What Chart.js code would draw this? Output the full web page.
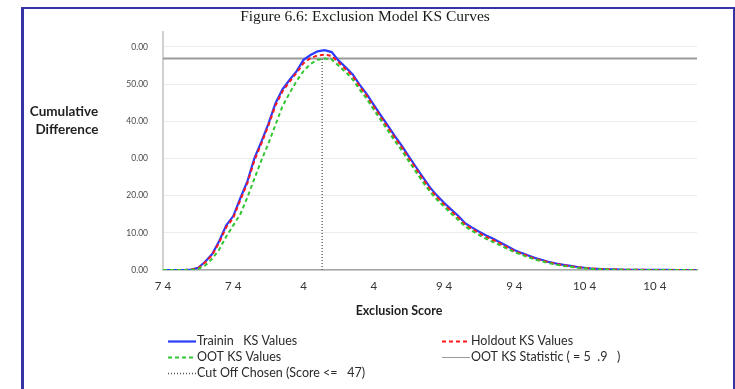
<!DOCTYPE html>
<html>
<head>
<meta charset="utf-8">
<script src="https://cdn.jsdelivr.net/npm/chart.js@4.4.0/dist/chart.umd.min.js"></script>
<style>
  html, body { margin: 0; padding: 0; background: #fff; overflow: hidden; }
  #frame { position: absolute; left: 21px; top: 7px; width: 714px; height: 400px;
           box-sizing: border-box; border: solid #3434a4; border-width: 2px 2px 0 3px; }
  #myChart { position: absolute; left: 0; top: 0; }
</style>
</head>
<body>
<div id="frame"></div>
<canvas id="myChart" width="735" height="389"></canvas>
<script>
// score positions along the x axis (index units)
var scores = [0, 2, 4, 6, 8, 10, 12, 14, 16, 18, 20, 22, 24, 26, 28, 30, 32, 34, 36, 38,
              40, 42, 44, 46, 48, 50, 52, 54, 56, 58, 60, 62, 64, 66, 68, 70, 72, 74, 76, 78,
              80, 82, 84, 86, 88, 90, 92, 94, 96, 98, 100, 102, 104, 106, 108, 110, 112, 114, 116, 118,
              120, 122, 124, 126, 128, 130, 132, 134, 136, 138, 140, 142, 144, 146, 148, 150, 152];

var trainingKS = [0, 0, 0, 0, 0.1, 0.6, 2.2, 4.3, 7.8, 12.0, 14.5, 19.3, 23.8, 30.0, 34.5, 39.3, 44.8, 48.6, 51.1, 53.4,
                  56.5, 57.8, 58.8, 59.1, 58.6, 56.3, 54.5, 52.6, 49.8, 47.3, 44.4, 41.6, 38.8, 36.0, 33.4, 30.5, 27.7, 24.9, 22.2, 20.0,
                  18.1, 16.3, 14.6, 12.6, 11.4, 10.3, 9.3, 8.4, 7.4, 6.4, 5.4, 4.6, 3.9, 3.2, 2.7, 2.1, 1.7, 1.4, 1.1, 0.8,
                  0.6, 0.4, 0.3, 0.2, 0.15, 0.1, 0.07, 0.05, 0.04, 0.03, 0.02, 0.01, 0.01, 0, 0, 0, 0];

var holdoutKS = [0, 0, 0, 0, 0.1, 0.5, 2.0, 4.0, 7.4, 11.5, 14.0, 18.8, 23.3, 29.4, 34.0, 38.8, 44.2, 48.0, 50.6, 53.0,
                 55.6, 57.0, 57.7, 57.9, 57.6, 55.8, 54.0, 52.1, 49.3, 46.8, 43.9, 41.1, 38.3, 35.5, 32.9, 30.0, 27.2, 24.4, 21.7, 19.5,
                 17.6, 15.8, 14.1, 12.2, 11.0, 9.9, 8.9, 8.0, 7.1, 6.1, 5.1, 4.4, 3.7, 3.0, 2.5, 2.0, 1.6, 1.3, 1.0, 0.75,
                 0.55, 0.38, 0.27, 0.18, 0.13, 0.09, 0.06, 0.05, 0.04, 0.03, 0.02, 0.01, 0.01, 0, 0, 0, 0];

var ootKS = [0, 0, 0, 0, 0, 0.3, 1.2, 3.0, 5.5, 9.0, 12.0, 15.0, 19.5, 24.5, 29.5, 34.0, 39.0, 44.0, 47.5, 50.8,
             53.5, 55.4, 56.5, 56.9, 56.6, 54.9, 53.2, 51.2, 48.5, 46.0, 43.1, 40.3, 37.5, 34.7, 32.1, 29.2, 26.4, 23.6, 21.0, 18.9,
             17.0, 15.2, 13.5, 11.7, 10.5, 9.4, 8.4, 7.5, 6.6, 5.7, 4.8, 4.1, 3.4, 2.8, 2.3, 1.8, 1.4, 1.1, 0.85, 0.6,
             0.45, 0.3, 0.2, 0.14, 0.1, 0.07, 0.05, 0.04, 0.03, 0.02, 0.01, 0.01, 0, 0, 0, 0, 0];

var ksStatistic = 56.9;
var cutOffScore = 45.3;

var xTickValues = [0, 20, 40, 60, 80, 100, 120, 140];
var xTickLabels = ['7 4', '7 4', '4', '4', '9 4', '9 4', '10 4', '10 4'];
var yTickValues = [0, 10, 20, 30, 40, 50, 60];
var yTickLabels = ['0.00', '10.00', '20.00', '0.00', '40.00', '50.00', '0.00'];

var titleText = 'Figure 6.6: Exclusion Model KS Curves';
var yTitle = ['Cumulative', 'Difference'];
var xTitle = 'Exclusion Score';

function toPoints(xs, ys) {
    return xs.map((x, i) => ({ x: x, y: ys[i] }));
}

// legend slots: [dataset index, column, row]
var legendSlots = [[0, 0, 0], [1, 1, 0], [2, 0, 1], [3, 1, 1], [4, 0, 2]];

const textPlugin = {
    id: 'texts',
    afterDraw(chart) {
        const ctx = chart.ctx;
        ctx.save();
        ctx.textBaseline = 'middle';

        ctx.fillStyle = '#1a1a1a';
        ctx.font = '15.5px "Liberation Serif"';
        ctx.textAlign = 'center';
        ctx.fillText(titleText, 365, 17);

        ctx.fillStyle = '#1f1f1f';
        ctx.font = 'bold 13.5px Lato';
        ctx.fillText(yTitle[0], 64, 112);
        ctx.fillText(yTitle[1], 67, 130);

        ctx.font = 'bold 12.5px Lato';
        ctx.fillText(xTitle, 399, 311);

        // legend
        const colX = [168, 442];
        const rowY = [341, 357, 373];
        ctx.textAlign = 'left';
        ctx.font = '12.5px Lato';
        legendSlots.forEach(function (slot) {
            const ds = chart.data.datasets[slot[0]];
            const x = colX[slot[1]];
            const y = rowY[slot[2]];
            ctx.save();
            ctx.strokeStyle = ds.borderColor;
            ctx.lineWidth = ds.legendWidth || ds.borderWidth;
            ctx.setLineDash(ds.borderDash || []);
            ctx.beginPath();
            ctx.moveTo(x, y + 0.5);
            ctx.lineTo(x + 28, y + 0.5);
            ctx.stroke();
            ctx.restore();
            ctx.fillStyle = '#2a2a2a';
            ctx.fillText(ds.label, x + 29, y);
        });
        ctx.restore();
    }
};

var ctx = document.getElementById('myChart').getContext('2d');

new Chart(ctx, {
    type: 'line',
    data: {
        datasets: [
            {
                label: 'Trainin   KS Values',
                data: toPoints(scores, trainingKS),
                borderColor: '#2b3cff',
                borderWidth: 2.2,
                order: 3
            },
            {
                label: 'Holdout KS Values',
                data: toPoints(scores, holdoutKS),
                borderColor: '#ff1a1a',
                borderWidth: 2,
                borderDash: [4, 3],
                order: 2
            },
            {
                label: 'OOT KS Values',
                data: toPoints(scores, ootKS),
                borderColor: '#33c633',
                borderWidth: 2,
                borderDash: [4, 3],
                order: 1
            },
            {
                label: 'OOT KS Statistic ( = 5  .9   )',
                data: [{ x: 0, y: ksStatistic }, { x: 152, y: ksStatistic }],
                borderColor: '#9a9a9a',
                borderWidth: 2,
                legendWidth: 1,
                order: 4
            },
            {
                label: 'Cut Off Chosen (Score <=   47)',
                data: [{ x: cutOffScore, y: 0 }, { x: cutOffScore, y: ksStatistic }],
                borderColor: '#555',
                borderWidth: 1.3,
                borderDash: [1, 2],
                order: 0
            }
        ]
    },
    options: {
        responsive: false,
        devicePixelRatio: 1,
        animation: false,
        layout: { padding: { left: 100, right: 38, top: 32, bottom: 69 } },
        elements: { point: { radius: 0 }, line: { tension: 0, fill: false } },
        plugins: { legend: { display: false }, title: { display: false }, tooltip: { enabled: false } },
        scales: {
            x: {
                type: 'linear',
                min: 0,
                max: 152,
                afterBuildTicks: function (scale) { scale.ticks = xTickValues.map(v => ({ value: v })); },
                afterFit: function (scale) { scale.height = 50; },
                grid: { display: false, drawTicks: false },
                border: { color: '#a6a6a6', width: 1.5 },
                ticks: {
                    padding: 9,
                    maxRotation: 0,
                    autoSkip: false,
                    color: '#333',
                    font: { family: 'Lato', size: 11.5 },
                    callback: function (v, i) { return xTickLabels[i]; }
                }
            },
            y: {
                min: 0,
                max: 64,
                afterBuildTicks: function (scale) { scale.ticks = yTickValues.map(v => ({ value: v })); },
                afterFit: function (scale) { scale.width = 63; },
                grid: { color: '#ececec', lineWidth: 1, drawTicks: false },
                border: { color: '#d0d0d0', width: 2 },
                ticks: {
                    padding: 15,
                    color: '#4a4a4a',
                    font: { family: 'Lato', size: 8.5 },
                    callback: function (v, i) { return yTickLabels[i]; }
                }
            }
        }
    },
    plugins: [textPlugin]
});
</script>
</body>
</html>
